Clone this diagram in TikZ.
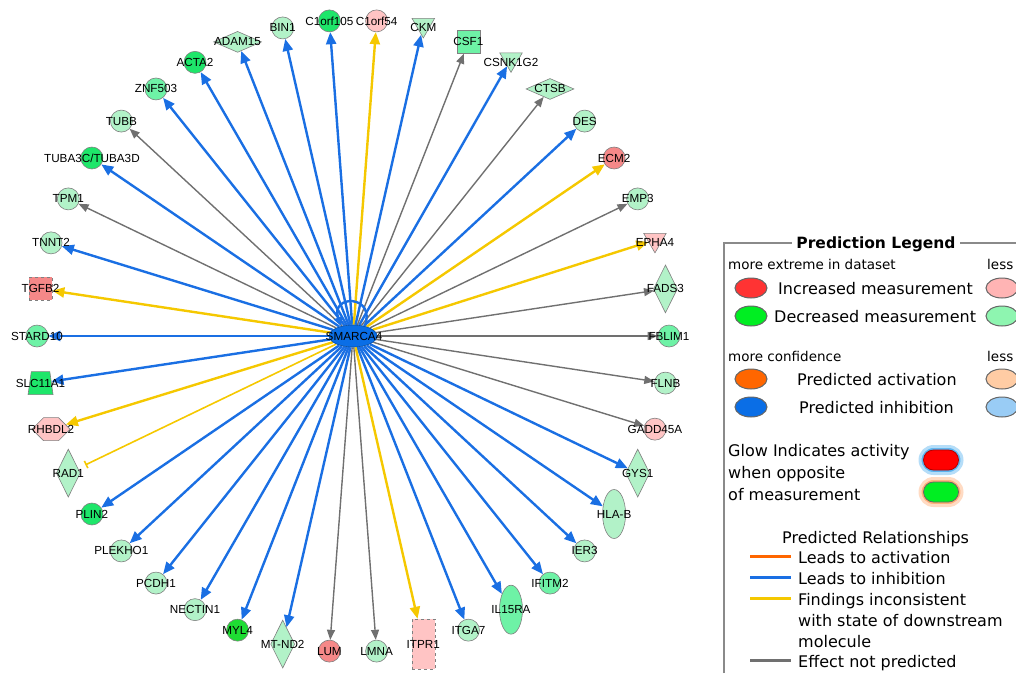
\documentclass[tikz,border=0pt]{standalone}
\usepackage{fontspec}
\setmainfont{Liberation Sans}
\newfontfamily\lgdfont{DejaVu Sans}
\usetikzlibrary{arrows.meta,positioning,shapes,backgrounds}

\definecolor{hubblue}{HTML}{0A6EE6}
\definecolor{inhblue}{HTML}{1A6FE3}
\definecolor{incyellow}{HTML}{F5C800}
\definecolor{npgray}{HTML}{707070}
\definecolor{actorange}{HTML}{FF6600}
\definecolor{dkgreen}{HTML}{1EE66A}
\definecolor{brgreen}{HTML}{1EDD33}
\definecolor{mdgreen}{HTML}{6EF2A6}
\definecolor{ltgreen}{HTML}{B2F2C8}
\definecolor{lpink}{HTML}{FFC4C4}
\definecolor{salmon}{HTML}{F58888}
\definecolor{nodeline}{HTML}{808080}
\definecolor{framegray}{HTML}{8A8A8A}
\definecolor{incred}{HTML}{FF3333}
\definecolor{incpink}{HTML}{FFB4B4}
\definecolor{decgreen}{HTML}{00EE22}
\definecolor{decltgreen}{HTML}{8EF5B0}
\definecolor{actlt}{HTML}{FFCCA4}
\definecolor{inhlt}{HTML}{99CCF5}
\definecolor{glowblue}{HTML}{5AB4F0}
\definecolor{gloworange}{HTML}{FFB07A}

\begin{document}
\begin{tikzpicture}[x=1pt, y=1pt,
    gene/.style={draw=nodeline, line width=.6pt, inner sep=1pt},
    circ/.style={gene, circle, minimum size=22pt},
    vell/.style={gene, ellipse, minimum width=23pt, minimum height=49pt},
    vdia/.style={gene, diamond, minimum width=24pt, minimum height=48pt},
    hdia/.style={gene, diamond, minimum width=48pt, minimum height=21pt},
    vtri/.style={gene, regular polygon, regular polygon sides=3,
                 shape border rotate=180, minimum size=26pt, yshift=3pt},
    sqr/.style={gene, rectangle, minimum size=23pt},
    dsqr/.style={sqr, dashed},
    drect/.style={gene, rectangle, dashed, minimum width=23pt, minimum height=50pt},
    trap/.style={gene, trapezium, trapezium angle=80, trapezium stretches=true,
                 minimum width=25pt, minimum height=23pt},
    hexa/.style={gene, signal, signal to=east and west,
                 minimum width=38pt, minimum height=23pt},
    hub/.style={ellipse, fill=hubblue, draw=hubblue!70!black, line width=.6pt,
                minimum width=48pt, minimum height=22pt, inner sep=1pt},
    lbl/.style={font=\fontsize{11.7}{12}\selectfont, inner sep=0pt},
    rel/.style={line width=2.4pt, -{Triangle[length=12pt,width=10pt]}},
    inhib/.style={rel, inhblue},
    incons/.style={rel, incyellow},
    nopred/.style={npgray, line width=1.4pt, -{Triangle[length=10pt,width=8pt]}},
    blocked/.style={incyellow, line width=1.6pt, -{Bar[width=8pt]}, shorten >=8pt},
    legframe/.style={framegray, line width=1.2pt},
    lgdtitle/.style={font=\lgdfont\bfseries\fontsize{15.5}{18}\selectfont,
                     fill=white, inner sep=4pt, anchor=base},
    lgdtext/.style={font=\lgdfont\fontsize{16}{22}\selectfont, inner sep=0pt,
                    anchor=base west, align=left},
    lgdsmall/.style={font=\lgdfont\fontsize{13.5}{15}\selectfont, inner sep=0pt,
                     anchor=base west},
    swatch/.style={ellipse, draw=black!60, line width=1pt,
                   minimum width=32pt, minimum height=20pt, inner sep=1pt},
    halo/.style={rounded rectangle, line width=3pt,
                 minimum width=44pt, minimum height=27pt, inner sep=1pt},
    pill/.style={rounded rectangle, draw=black!60, line width=.8pt,
                 minimum width=37pt, minimum height=20pt, inner sep=1pt},
    swline/.style={line width=3pt}
]
    \useasboundingbox (0,0) rectangle (1016,-673);

    \node (SMARCA4) [hub] at (353,-336) {};
    \node (SMARCA4-t) [lbl] at (354,-336) {SMARCA4};

    \foreach \id/\txt/\shp/\col/\rel [count=\k] in {
        C1orf105/C1orf105/circ/dkgreen/inhib,
        C1orf54/C1orf54/circ/lpink/incons,
        CKM/CKM/vtri/ltgreen/inhib,
        CSF1/CSF1/sqr/mdgreen/nopred,
        CSNK1G2/CSNK1G2/vtri/ltgreen/inhib,
        CTSB/CTSB/hdia/ltgreen/nopred,
        DES/DES/circ/ltgreen/inhib,
        ECM2/ECM2/circ/salmon/incons,
        EMP3/EMP3/circ/ltgreen/nopred,
        EPHA4/EPHA4/vtri/lpink/incons,
        FADS3/FADS3/vdia/ltgreen/nopred,
        FBLIM1/FBLIM1/circ/mdgreen/nopred,
        FLNB/FLNB/circ/ltgreen/nopred,
        GADD45A/GADD45A/circ/lpink/nopred,
        GYS1/GYS1/vdia/ltgreen/inhib,
        HLA-B/HLA-B/vell/ltgreen/inhib,
        IER3/IER3/circ/ltgreen/inhib,
        IFITM2/IFITM2/circ/mdgreen/inhib,
        IL15RA/IL15RA/vell/mdgreen/inhib,
        ITGA7/ITGA7/circ/ltgreen/inhib,
        ITPR1/ITPR1/drect/lpink/incons,
        LMNA/LMNA/circ/ltgreen/nopred,
        LUM/LUM/circ/salmon/nopred,
        MT-ND2/MT-ND2/vdia/ltgreen/inhib,
        MYL4/MYL4/circ/brgreen/inhib,
        NECTIN1/NECTIN1/circ/ltgreen/inhib,
        PCDH1/PCDH1/circ/ltgreen/inhib,
        PLEKHO1/PLEKHO1/circ/ltgreen/inhib,
        PLIN2/PLIN2/circ/dkgreen/inhib,
        RAD1/RAD1/vdia/ltgreen/blocked,
        RHBDL2/RHBDL2/hexa/lpink/incons,
        SLC11A1/SLC11A1/trap/dkgreen/inhib,
        STARD10/STARD10/circ/mdgreen/inhib,
        TGFB2/TGFB2/dsqr/salmon/incons,
        TNNT2/TNNT2/circ/ltgreen/inhib,
        TPM1/TPM1/circ/ltgreen/nopred,
        TUBA3C/TUBA3C\slash TUBA3D/circ/dkgreen/inhib,
        TUBB/TUBB/circ/ltgreen/nopred,
        ZNF503/ZNF503/circ/mdgreen/inhib,
        ACTA2/ACTA2/circ/dkgreen/inhib,
        ADAM15/ADAM15/hdia/ltgreen/inhib,
        BIN1/BIN1/circ/ltgreen/inhib}
    {
        \pgfmathsetmacro\ang{(12-\k)*360/42}
        \path (SMARCA4.center) ++(\ang:316)
            node (\id) [\shp, fill=\col] {}
            node (\id-t) [lbl] {\txt};
        \begin{scope}[on background layer]
            \draw[\rel] (SMARCA4) -- (\id);
        \end{scope}
    }
    \draw[inhib, -{Triangle[length=9pt,width=9pt]}] (SMARCA4.40)
        .. controls +(70:34) and +(110:34) .. (SMARCA4.140);

    % legend
    \draw[legframe] (724,-673) -- (724,-243) -- (1016,-243);
    \node (title) [lgdtitle] at (876,-248) {Prediction Legend};

    \node (extreme) [lgdsmall] at (728,-269) {more extreme in dataset};
    \node (extreme-less) [lgdsmall] at (987,-269) {less};
    \node (incr-hi) [swatch, fill=incred] at (751,-288) {};
    \node (incr) [lgdtext] at (778,-294) {Increased measurement};
    \node (incr-lo) [swatch, fill=incpink] at (1002,-288) {};
    \node (decr-hi) [swatch, fill=decgreen] at (751,-316) {};
    \node (decr) [lgdtext] at (774,-322) {Decreased measurement};
    \node (decr-lo) [swatch, fill=decltgreen] at (1002,-316) {};

    \node (confid) [lgdsmall] at (728,-361) {more confidence};
    \node (confid-less) [lgdsmall] at (987,-361) {less};
    \node (act-hi) [swatch, fill=actorange] at (751,-379) {};
    \node (act) [lgdtext] at (797,-385) {Predicted activation};
    \node (act-lo) [swatch, fill=actlt] at (1002,-379) {};
    \node (inh-hi) [swatch, fill=hubblue] at (751,-407) {};
    \node (inh) [lgdtext] at (799,-413) {Predicted inhibition};
    \node (inh-lo) [swatch, fill=inhlt] at (1002,-407) {};

    \node (glow) [lgdtext] at (728,-500)
          {Glow Indicates activity\\when opposite\\of measurement};
    \node (glow-a-halo) [halo, fill=glowblue, draw=glowblue!45] at (941,-460) {};
    \node (glow-a) [pill, fill=red, draw=red!70!black] at (941,-460) {};
    \node (glow-b-halo) [halo, fill=gloworange, draw=gloworange!45] at (941,-492) {};
    \node (glow-b) [pill, fill=decgreen] at (941,-492) {};

    \node (relhead) [lgdtext] at (782,-543) {Predicted Relationships};
    \node (rel-act) [lgdtext] at (798,-563) {Leads to activation};
    \node (rel-inh) [lgdtext] at (798,-584) {Leads to inhibition};
    \node (rel-inc) [lgdtext, font=\lgdfont\fontsize{16}{21}\selectfont] at (798,-647)
          {Findings inconsistent\\with state of downstream\\molecule};
    \node (rel-np) [lgdtext] at (798,-667) {Effect not predicted};
    \draw[swline, actorange] ([shift={(-48pt,6.5pt)}]rel-act.base west)
        -- ([shift={(-7pt,6.5pt)}]rel-act.base west);
    \draw[swline, inhblue] ([shift={(-48pt,6.5pt)}]rel-inh.base west)
        -- ([shift={(-7pt,6.5pt)}]rel-inh.base west);
    \draw[swline, incyellow] ([shift={(-48pt,48.5pt)}]rel-inc.base west)
        -- ([shift={(-7pt,48.5pt)}]rel-inc.base west);
    \draw[swline, npgray] ([shift={(-48pt,6.5pt)}]rel-np.base west)
        -- ([shift={(-7pt,6.5pt)}]rel-np.base west);
\end{tikzpicture}
\end{document}
